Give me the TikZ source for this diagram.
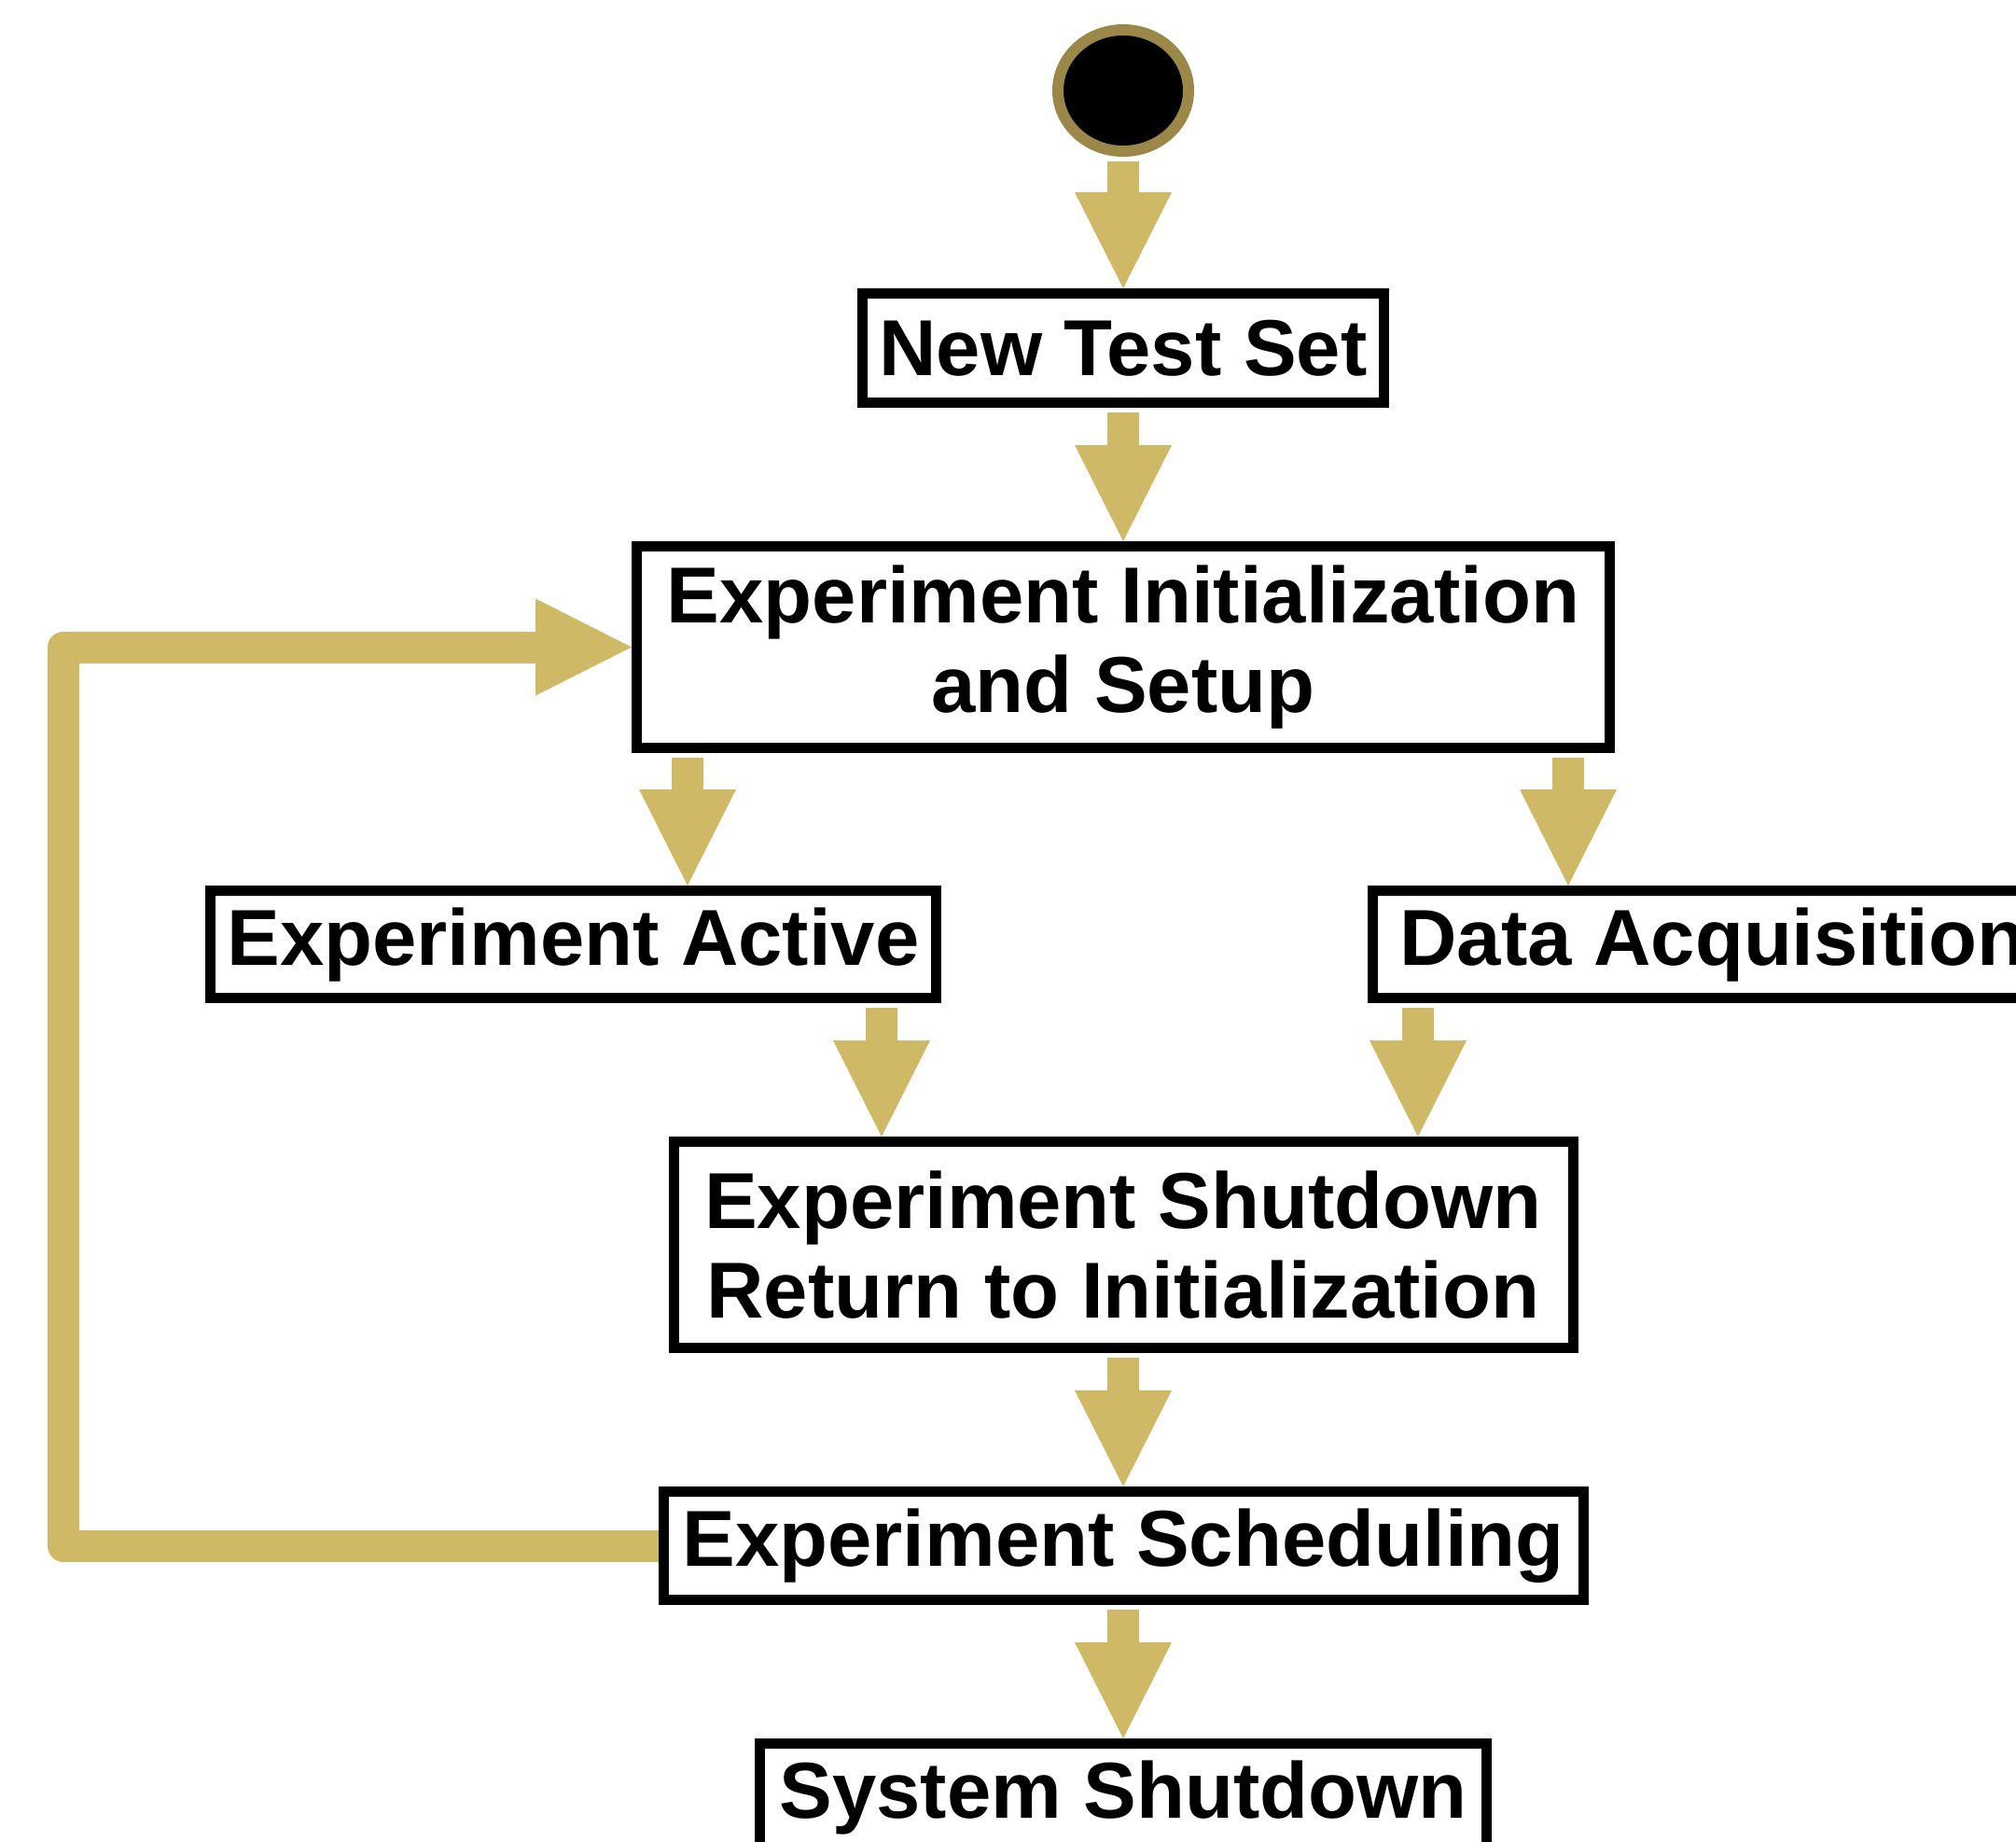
\documentclass[tikz,border=0pt]{standalone}
\usepackage{fontspec}
\setmainfont{Liberation Sans}
\usetikzlibrary{arrows.meta, shapes.geometric}
\definecolor{flowgold}{RGB}{207,185,102}
\definecolor{ringolive}{RGB}{155,135,72}
\begin{document}
\begin{tikzpicture}[font=\fontsize{24.2pt}{27.5pt}\selectfont\bfseries,
  statebox/.style={draw, rectangle, line width=0.11cm, align=center, inner sep=0pt, fill=white},
  flow/.style={draw=flowgold, line width=0.34cm, shorten <=0.05cm,
    -{Triangle[length=1.03cm, width=1.04cm, line width=0pt]}}]
\clip (0,0) rectangle (21.61,-19.73);

% Start marker
\node[ellipse, draw=ringolive, fill=black, line width=0.12cm, minimum width=1.40cm, minimum height=1.30cm] (start) at (12.04,-0.97) {};

% States
\node[statebox, minimum width=5.59cm, minimum height=1.17cm] (newset) at (12.04,-3.73) {New Test Set};
\node[statebox, minimum width=10.43cm, minimum height=2.16cm] (init) at (12.04,-6.935) {Experiment Initialization\\and Setup};
\node[statebox, minimum width=7.78cm, minimum height=1.15cm] (active) at (6.145,-10.12) {Experiment Active};
\node[statebox, minimum width=7.29cm, minimum height=1.15cm] (daq) at (18.36,-10.12) {Data Acquisition};
\node[statebox, minimum width=9.64cm, minimum height=2.21cm] (shutdown) at (12.04,-13.34) {Experiment Shutdown\\Return to Initialization};
\node[statebox, minimum width=9.86cm, minimum height=1.16cm] (sched) at (12.04,-16.565) {Experiment Scheduling};
\node[statebox, minimum width=7.79cm, minimum height=1.16cm] (sysdown) at (12.04,-19.265) {System Shutdown};

% Columns of the side arrows
\coordinate (colA) at (7.37,0);
\coordinate (colB) at (16.81,0);
\coordinate (colC) at (9.45,0);
\coordinate (colD) at (15.20,0);
\coordinate (loopx) at (0.68,0);

% Arrows
\draw[flow] (start.south) -- (newset.north);
\draw[flow] (newset.south) -- (init.north);
\draw[flow] (init.south -| colA) -- (active.north -| colA);
\draw[flow] (init.south -| colB) -- (daq.north -| colB);
\draw[flow] (active.south -| colC) -- (shutdown.north -| colC);
\draw[flow] (daq.south -| colD) -- (shutdown.north -| colD);
\draw[flow] (shutdown.south) -- (sched.north);
\draw[flow] (sched.south) -- (sysdown.north);

% Loop back to initialization
\draw[flow, shorten <=0pt, line join=round] (sched.west) -- (sched.west -| loopx) |- (init.west);
\end{tikzpicture}
\end{document}
